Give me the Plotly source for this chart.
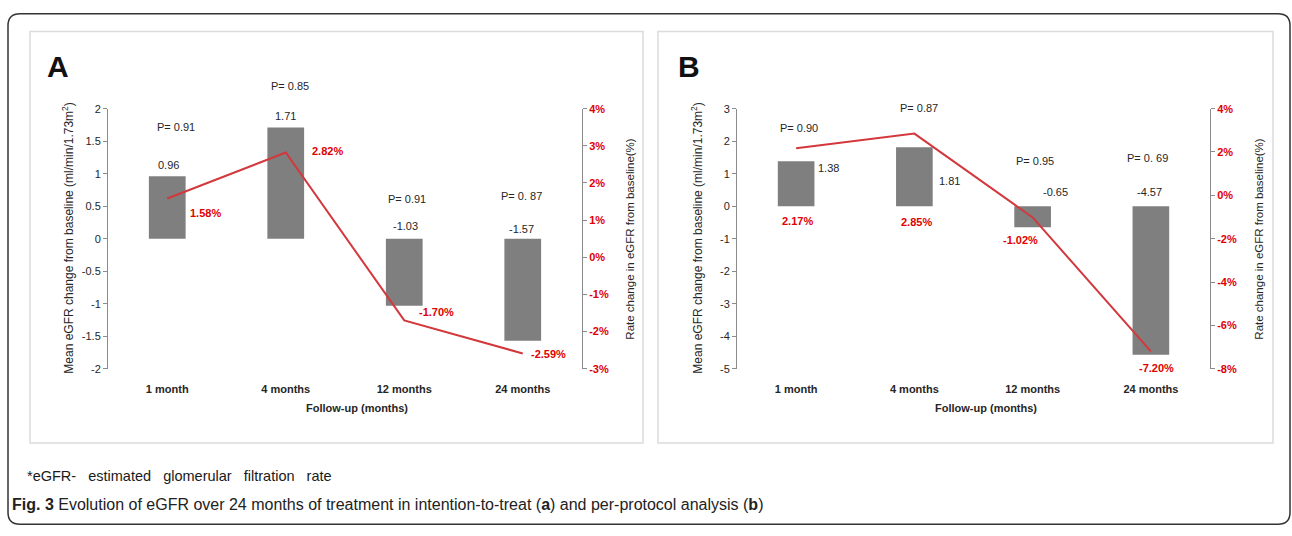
import plotly.graph_objects as go

W, H = 1292, 536

categories = ["1 month", "4 months", "12 months", "24 months"]

# Panel A (intention-to-treat)
a_mean_change = [0.96, 1.71, -1.03, -1.57]
a_rate_change = [1.58, 2.82, -1.70, -2.59]
a_pvalues = ["P= 0.91", "P= 0.85", "P= 0.91", "P= 0. 87"]
a_left_ticks = [2, 1.5, 1, 0.5, 0, -0.5, -1, -1.5, -2]
a_left_ticktext = ["2", "1.5", "1", "0.5", "0", "-0.5", "-1", "-1.5", "-2"]
a_right_ticks = [4, 3, 2, 1, 0, -1, -2, -3]
a_right_ticktext = ["4%", "3%", "2%", "1%", "0%", "-1%", "-2%", "-3%"]

# Panel B (per-protocol)
b_mean_change = [1.38, 1.81, -0.65, -4.57]
b_rate_change = [2.17, 2.85, -1.02, -7.20]
b_pvalues = ["P= 0.90", "P= 0.87", "P= 0.95", "P= 0. 69"]
b_left_ticks = [3, 2, 1, 0, -1, -2, -3, -4, -5]
b_left_ticktext = ["3", "2", "1", "0", "-1", "-2", "-3", "-4", "-5"]
b_right_ticks = [4, 2, 0, -2, -4, -6, -8]
b_right_ticktext = ["4%", "2%", "0%", "-2%", "-4%", "-6%", "-8%"]


def px(x):
    return x / W


def py(y):
    return 1 - y / H


BAR = "#7F7F7F"
LINE = "#D2383C"
RED = "#E00000"
TXT = "#262626"
AX = "#8C8C8C"
FONT = "Liberation Sans, Arial"

fig = go.Figure()

panels = [
    dict(x="x", y="y", y2="y2", mean=a_mean_change, rate=a_rate_change),
    dict(x="x2", y="y3", y2="y4", mean=b_mean_change, rate=b_rate_change),
]
for p in panels:
    fig.add_trace(go.Bar(x=categories, y=p["mean"], xaxis=p["x"], yaxis=p["y"],
                         marker=dict(color=BAR, line=dict(width=0)), width=0.31,
                         showlegend=False, hoverinfo="skip"))
    fig.add_trace(go.Scatter(x=categories, y=p["rate"], xaxis=p["x"], yaxis=p["y2"],
                             mode="lines", line=dict(color=LINE, width=2),
                             showlegend=False, hoverinfo="skip"))

ydom = [py(371), py(105)]
common_x = dict(type="category", showline=False, showgrid=False, zeroline=False,
                ticks="", tickfont=dict(family=FONT, size=11, color=TXT, weight="bold"),
                ticklabelstandoff=12, fixedrange=True)
left_y = dict(showline=True, linecolor=AX, linewidth=1, ticks="outside", ticklen=4,
              tickcolor=AX, showgrid=False, zeroline=False, fixedrange=True,
              tickfont=dict(family=FONT, size=11, color=TXT))
right_y = dict(showline=True, linecolor=AX, linewidth=1, ticks="outside", ticklen=4,
               tickcolor=AX, showgrid=False, zeroline=False, side="right", fixedrange=True,
               tickfont=dict(family=FONT, size=11, color=RED, weight="bold"))

fig.update_layout(
    width=W, height=H, margin=dict(l=0, r=0, t=0, b=0),
    paper_bgcolor="white", plot_bgcolor="rgba(0,0,0,0)",
    xaxis=dict(common_x, domain=[px(108), px(582)], anchor="y"),
    yaxis=dict(left_y, domain=ydom, range=[-2, 2], tickvals=a_left_ticks,
               ticktext=a_left_ticktext, anchor="x"),
    yaxis2=dict(right_y, overlaying="y", anchor="x", range=[-3, 4],
                tickvals=a_right_ticks, ticktext=a_right_ticktext),
    xaxis2=dict(common_x, domain=[px(737), px(1210)], anchor="y3"),
    yaxis3=dict(left_y, domain=ydom, range=[-5, 3], tickvals=b_left_ticks,
                ticktext=b_left_ticktext, anchor="x2"),
    yaxis4=dict(right_y, overlaying="y3", anchor="x2", range=[-8, 4],
                tickvals=b_right_ticks, ticktext=b_right_ticktext),
)

ann = []


def add(text, x, y, xref="paper", yref="paper", size=11, color=TXT, family=FONT,
        xshift=0, yshift=0, angle=0, xanchor="center", weight="normal"):
    ann.append(dict(text=text, x=x, y=y, xref=xref, yref=yref, showarrow=False,
                    font=dict(size=size, color=color, family=family, weight=weight),
                    xshift=xshift, yshift=yshift, textangle=angle,
                    xanchor=xanchor, yanchor="middle"))


# Panel A annotations: (xshift, y in left-axis units, yshift)
a_p_pos = [(9, 1.71, 0), (4, 2.0, 23), (3, 0.61, 0), (-1, 0.66, 0)]
for i, c in enumerate(categories):
    add(a_pvalues[i], c, a_p_pos[i][1], "x", "y", xshift=a_p_pos[i][0], yshift=a_p_pos[i][2])
a_bar_lbl = [(1, 11), (0, 11), (1, 13), (-1, 10)]
for i, c in enumerate(categories):
    base = max(a_mean_change[i], 0)
    add(f"{a_mean_change[i]:.2f}", c, base, "x", "y",
        xshift=a_bar_lbl[i][0], yshift=a_bar_lbl[i][1])
a_red_off = [(38, -14), (42, 1), (32, 8), (26, -1)]
for i, c in enumerate(categories):
    add(f"{a_rate_change[i]:.2f}%", c, a_rate_change[i], "x", "y2",
        color=RED, weight="bold", xshift=a_red_off[i][0], yshift=a_red_off[i][1])

# Panel B annotations
b_p_pos = [(3, 2.40, 0), (5, 3.0, 1), (2, 1.38, 0), (-3, 1.47, 0)]
for i, c in enumerate(categories):
    add(b_pvalues[i], c, b_p_pos[i][1], "x2", "y3", xshift=b_p_pos[i][0], yshift=b_p_pos[i][2])
b_bar_lbl = [(32, -7), (35, -34), (23, 14), (-1, 14)]
for i, c in enumerate(categories):
    base = max(b_mean_change[i], 0)
    add(f"{b_mean_change[i]:.2f}", c, base, "x2", "y3",
        xshift=b_bar_lbl[i][0], yshift=b_bar_lbl[i][1])
b_red_off = [(1, -73), (2, -88), (-12, -23), (6, -17)]
for i, c in enumerate(categories):
    add(f"{b_rate_change[i]:.2f}%", c, b_rate_change[i], "x2", "y4",
        color=RED, weight="bold", xshift=b_red_off[i][0], yshift=b_red_off[i][1])

# Axis titles
left_title = "Mean eGFR change from baseline (ml/min/1.73m<sup>2</sup>)"
right_title = "Rate change in eGFR from baseline(%)"
add(left_title, px(68), py(238), size=12, angle=-90)
add(right_title, px(630), py(238), size=11.5, angle=-90)
add(left_title, px(697), py(238), size=12, angle=-90)
add(right_title, px(1259), py(238), size=11.5, angle=-90)
add("Follow-up (months)", px(357), py(411), size=11, weight="bold")
add("Follow-up (months)", px(986), py(411), size=11, weight="bold")

# Panel letters
add("A", px(58), py(62), size=30, color="#111111", weight="bold")
add("B", px(689), py(62), size=30, color="#111111", weight="bold")

# Captions
sp = "\u00a0\u00a0 "
add(f"*eGFR-{sp}estimated{sp}glomerular{sp}filtration{sp}rate", px(25), py(481), size=14.5,
    color="#1a1a1a", xanchor="left")
add("<b>Fig. 3</b> Evolution of eGFR over 24 months of treatment in intention-to-treat "
    "(<b>a</b>) and per-protocol analysis (<b>b</b>)", px(10), py(510), size=16,
    color="#222222", xanchor="left")

fig.update_layout(annotations=ann)

# Borders
shapes = [
    dict(type="rect", xref="paper", yref="paper", x0=px(30), x1=px(643), y0=py(447), y1=py(26),
         line=dict(color="#DCDCDC", width=1.5), layer="below"),
    dict(type="rect", xref="paper", yref="paper", x0=px(658), x1=px(1273), y0=py(447), y1=py(26),
         line=dict(color="#DCDCDC", width=1.5), layer="below"),
]
r = 12
x0, x1, y0, y1 = 8, 1290, 8, 530
path = (f"M {px(x0)},{py(y0 + r)} Q {px(x0)},{py(y0)} {px(x0 + r)},{py(y0)} "
        f"L {px(x1 - r)},{py(y0)} Q {px(x1)},{py(y0)} {px(x1)},{py(y0 + r)} "
        f"L {px(x1)},{py(y1 - r)} Q {px(x1)},{py(y1)} {px(x1 - r)},{py(y1)} "
        f"L {px(x0 + r)},{py(y1)} Q {px(x0)},{py(y1)} {px(x0)},{py(y1 - r)} Z")
shapes.append(dict(type="path", xref="paper", yref="paper", path=path,
                   line=dict(color="#333333", width=1.5)))
fig.update_layout(shapes=shapes)

fig.write_html("out.html", config={"displayModeBar": False},
               post_script="document.body.style.margin='0';document.body.style.overflow='hidden';")
